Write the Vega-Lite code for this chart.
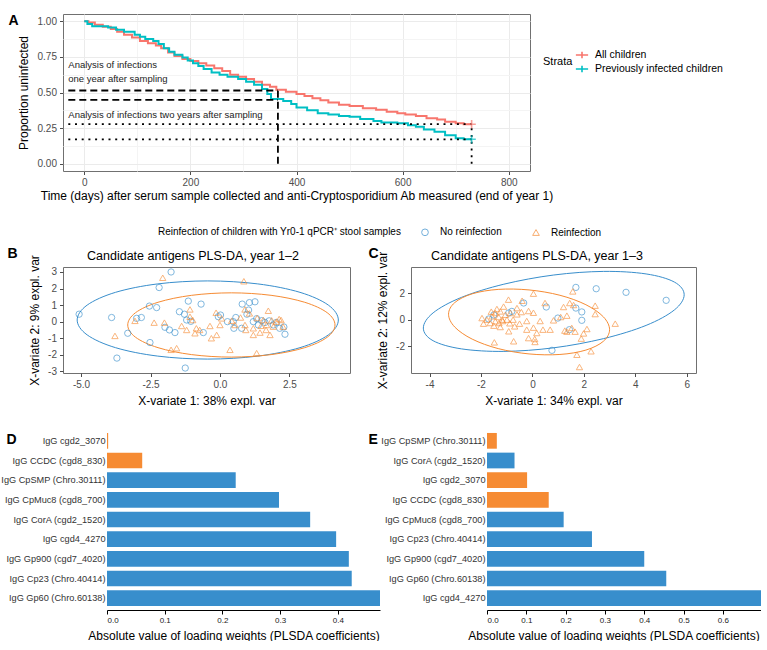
{
  "$schema": "https://vega.github.io/schema/vega-lite/v6.json",
  "padding": {"left": 0, "top": 12, "right": 0, "bottom": 0},
  "background": "white",
  "columns": 1,
  "align": "none",
  "bounds": "full",
  "spacing": 24,
  "config": {
    "font": "Liberation Sans",
    "view": {"stroke": "#707070", "strokeWidth": 1},
    "axis": {"labelColor": "#4D4D4D", "labelFontSize": 10, "titleFontSize": 12, "titleFontWeight": "normal", "titleColor": "#000000", "tickColor": "#4D4D4D", "tickSize": 3.5, "labelPadding": 3, "domain": false, "gridColor": "#EBEBEB"},
    "legend": {"labelFontSize": 10, "titleFontSize": 10, "titleFontWeight": "normal", "labelColor": "#000000", "titleColor": "#000000"}
  },
  "datasets": {
    "surv": [
      {"strata": "All children", "day": 0, "surv": 1.0},
      {"strata": "All children", "day": 8, "surv": 0.99},
      {"strata": "All children", "day": 20, "surv": 0.975},
      {"strata": "All children", "day": 35, "surv": 0.96},
      {"strata": "All children", "day": 50, "surv": 0.945},
      {"strata": "All children", "day": 62, "surv": 0.925},
      {"strata": "All children", "day": 75, "surv": 0.905},
      {"strata": "All children", "day": 90, "surv": 0.885},
      {"strata": "All children", "day": 105, "surv": 0.86},
      {"strata": "All children", "day": 120, "surv": 0.845},
      {"strata": "All children", "day": 135, "surv": 0.83},
      {"strata": "All children", "day": 145, "surv": 0.81},
      {"strata": "All children", "day": 158, "surv": 0.78},
      {"strata": "All children", "day": 170, "surv": 0.755},
      {"strata": "All children", "day": 185, "surv": 0.735},
      {"strata": "All children", "day": 200, "surv": 0.72},
      {"strata": "All children", "day": 215, "surv": 0.705},
      {"strata": "All children", "day": 230, "surv": 0.69},
      {"strata": "All children", "day": 245, "surv": 0.67},
      {"strata": "All children", "day": 260, "surv": 0.65},
      {"strata": "All children", "day": 275, "surv": 0.625},
      {"strata": "All children", "day": 290, "surv": 0.61},
      {"strata": "All children", "day": 305, "surv": 0.595},
      {"strata": "All children", "day": 320, "surv": 0.575},
      {"strata": "All children", "day": 335, "surv": 0.555},
      {"strata": "All children", "day": 350, "surv": 0.54},
      {"strata": "All children", "day": 362, "surv": 0.52},
      {"strata": "All children", "day": 380, "surv": 0.505},
      {"strata": "All children", "day": 400, "surv": 0.49},
      {"strata": "All children", "day": 415, "surv": 0.475},
      {"strata": "All children", "day": 430, "surv": 0.46},
      {"strata": "All children", "day": 445, "surv": 0.445},
      {"strata": "All children", "day": 460, "surv": 0.43},
      {"strata": "All children", "day": 480, "surv": 0.415},
      {"strata": "All children", "day": 500, "surv": 0.405},
      {"strata": "All children", "day": 525, "surv": 0.39},
      {"strata": "All children", "day": 550, "surv": 0.38},
      {"strata": "All children", "day": 570, "surv": 0.365},
      {"strata": "All children", "day": 590, "surv": 0.355},
      {"strata": "All children", "day": 605, "surv": 0.345},
      {"strata": "All children", "day": 625, "surv": 0.335},
      {"strata": "All children", "day": 645, "surv": 0.32},
      {"strata": "All children", "day": 665, "surv": 0.31},
      {"strata": "All children", "day": 680, "surv": 0.295},
      {"strata": "All children", "day": 700, "surv": 0.285},
      {"strata": "All children", "day": 715, "surv": 0.278},
      {"strata": "All children", "day": 730, "surv": 0.278},
      {"strata": "Previously infected children", "day": 0, "surv": 1.0},
      {"strata": "Previously infected children", "day": 6, "surv": 0.98},
      {"strata": "Previously infected children", "day": 15, "surv": 0.965},
      {"strata": "Previously infected children", "day": 45, "surv": 0.955},
      {"strata": "Previously infected children", "day": 60, "surv": 0.94},
      {"strata": "Previously infected children", "day": 75, "surv": 0.925},
      {"strata": "Previously infected children", "day": 95, "surv": 0.905},
      {"strata": "Previously infected children", "day": 105, "surv": 0.89},
      {"strata": "Previously infected children", "day": 115, "surv": 0.875},
      {"strata": "Previously infected children", "day": 130, "surv": 0.86},
      {"strata": "Previously infected children", "day": 140, "surv": 0.84},
      {"strata": "Previously infected children", "day": 150, "surv": 0.81},
      {"strata": "Previously infected children", "day": 160, "surv": 0.785},
      {"strata": "Previously infected children", "day": 170, "surv": 0.765},
      {"strata": "Previously infected children", "day": 185, "surv": 0.745},
      {"strata": "Previously infected children", "day": 195, "surv": 0.725},
      {"strata": "Previously infected children", "day": 205, "surv": 0.705},
      {"strata": "Previously infected children", "day": 215, "surv": 0.685},
      {"strata": "Previously infected children", "day": 225, "surv": 0.665},
      {"strata": "Previously infected children", "day": 240, "surv": 0.64},
      {"strata": "Previously infected children", "day": 255, "surv": 0.625},
      {"strata": "Previously infected children", "day": 270, "surv": 0.61},
      {"strata": "Previously infected children", "day": 290, "surv": 0.595},
      {"strata": "Previously infected children", "day": 305, "surv": 0.575},
      {"strata": "Previously infected children", "day": 320, "surv": 0.555},
      {"strata": "Previously infected children", "day": 335, "surv": 0.525},
      {"strata": "Previously infected children", "day": 345, "surv": 0.49},
      {"strata": "Previously infected children", "day": 352, "surv": 0.455},
      {"strata": "Previously infected children", "day": 375, "surv": 0.44},
      {"strata": "Previously infected children", "day": 390, "surv": 0.42},
      {"strata": "Previously infected children", "day": 400, "surv": 0.395},
      {"strata": "Previously infected children", "day": 420, "surv": 0.375},
      {"strata": "Previously infected children", "day": 440, "surv": 0.355},
      {"strata": "Previously infected children", "day": 460, "surv": 0.345},
      {"strata": "Previously infected children", "day": 480, "surv": 0.335},
      {"strata": "Previously infected children", "day": 500, "surv": 0.33},
      {"strata": "Previously infected children", "day": 520, "surv": 0.315},
      {"strata": "Previously infected children", "day": 545, "surv": 0.3},
      {"strata": "Previously infected children", "day": 560, "surv": 0.29},
      {"strata": "Previously infected children", "day": 590, "surv": 0.285},
      {"strata": "Previously infected children", "day": 610, "surv": 0.27},
      {"strata": "Previously infected children", "day": 625, "surv": 0.26},
      {"strata": "Previously infected children", "day": 640, "surv": 0.24},
      {"strata": "Previously infected children", "day": 660, "surv": 0.225},
      {"strata": "Previously infected children", "day": 680, "surv": 0.2},
      {"strata": "Previously infected children", "day": 700, "surv": 0.18},
      {"strata": "Previously infected children", "day": 715, "surv": 0.172},
      {"strata": "Previously infected children", "day": 730, "surv": 0.172}
    ],
    "censor": [
      {"strata": "All children", "day": 730, "surv": 0.278},
      {"strata": "Previously infected children", "day": 730, "surv": 0.172}
    ],
    "segs": [
      {"kind": "dashed", "x": -30, "x2": 365, "y": 0.514, "y2": 0.514},
      {"kind": "dashed", "x": -30, "x2": 365, "y": 0.449, "y2": 0.449},
      {"kind": "dashed", "x": 365, "x2": 365, "y": 0, "y2": 0.514},
      {"kind": "dotted", "x": -30, "x2": 730, "y": 0.278, "y2": 0.278},
      {"kind": "dotted", "x": -30, "x2": 730, "y": 0.172, "y2": 0.172},
      {"kind": "dotted", "x": 730, "x2": 730, "y": 0, "y2": 0.278}
    ],
    "notes": [
      {"x": -30, "y": 0.69, "label": "Analysis of infections"},
      {"x": -30, "y": 0.592, "label": "one year after sampling"},
      {"x": -30, "y": 0.34, "label": "Analysis of infections two years after sampling"}
    ],
    "ell": [
      {"panel": "B", "group": "No reinfection", "ord": 0, "x": 4.26, "y": 0.10},
      {"panel": "B", "group": "No reinfection", "ord": 1, "x": 3.90, "y": 1.00},
      {"panel": "B", "group": "No reinfection", "ord": 2, "x": 2.88, "y": 1.77},
      {"panel": "B", "group": "No reinfection", "ord": 3, "x": 1.36, "y": 2.28},
      {"panel": "B", "group": "No reinfection", "ord": 4, "x": -0.44, "y": 2.46},
      {"panel": "B", "group": "No reinfection", "ord": 5, "x": -2.24, "y": 2.28},
      {"panel": "B", "group": "No reinfection", "ord": 6, "x": -3.76, "y": 1.77},
      {"panel": "B", "group": "No reinfection", "ord": 7, "x": -4.78, "y": 1.00},
      {"panel": "B", "group": "No reinfection", "ord": 8, "x": -5.14, "y": 0.10},
      {"panel": "B", "group": "No reinfection", "ord": 9, "x": -4.78, "y": -0.80},
      {"panel": "B", "group": "No reinfection", "ord": 10, "x": -3.76, "y": -1.57},
      {"panel": "B", "group": "No reinfection", "ord": 11, "x": -2.24, "y": -2.08},
      {"panel": "B", "group": "No reinfection", "ord": 12, "x": -0.44, "y": -2.26},
      {"panel": "B", "group": "No reinfection", "ord": 13, "x": 1.36, "y": -2.08},
      {"panel": "B", "group": "No reinfection", "ord": 14, "x": 2.88, "y": -1.57},
      {"panel": "B", "group": "No reinfection", "ord": 15, "x": 3.90, "y": -0.80},
      {"panel": "B", "group": "Reinfection", "ord": 0, "x": 4.14, "y": -0.20},
      {"panel": "B", "group": "Reinfection", "ord": 1, "x": 3.86, "y": 0.54},
      {"panel": "B", "group": "Reinfection", "ord": 2, "x": 3.05, "y": 1.17},
      {"panel": "B", "group": "Reinfection", "ord": 3, "x": 1.84, "y": 1.59},
      {"panel": "B", "group": "Reinfection", "ord": 4, "x": 0.41, "y": 1.74},
      {"panel": "B", "group": "Reinfection", "ord": 5, "x": -1.02, "y": 1.59},
      {"panel": "B", "group": "Reinfection", "ord": 6, "x": -2.23, "y": 1.17},
      {"panel": "B", "group": "Reinfection", "ord": 7, "x": -3.04, "y": 0.54},
      {"panel": "B", "group": "Reinfection", "ord": 8, "x": -3.32, "y": -0.20},
      {"panel": "B", "group": "Reinfection", "ord": 9, "x": -3.04, "y": -0.94},
      {"panel": "B", "group": "Reinfection", "ord": 10, "x": -2.23, "y": -1.57},
      {"panel": "B", "group": "Reinfection", "ord": 11, "x": -1.02, "y": -1.99},
      {"panel": "B", "group": "Reinfection", "ord": 12, "x": 0.41, "y": -2.14},
      {"panel": "B", "group": "Reinfection", "ord": 13, "x": 1.84, "y": -1.99},
      {"panel": "B", "group": "Reinfection", "ord": 14, "x": 3.05, "y": -1.57},
      {"panel": "B", "group": "Reinfection", "ord": 15, "x": 3.86, "y": -0.94},
      {"panel": "C", "group": "No reinfection", "ord": 0, "x": 5.90, "y": 1.87},
      {"panel": "C", "group": "No reinfection", "ord": 1, "x": 5.52, "y": 2.82},
      {"panel": "C", "group": "No reinfection", "ord": 2, "x": 4.42, "y": 3.43},
      {"panel": "C", "group": "No reinfection", "ord": 3, "x": 2.77, "y": 3.62},
      {"panel": "C", "group": "No reinfection", "ord": 4, "x": 0.83, "y": 3.35},
      {"panel": "C", "group": "No reinfection", "ord": 5, "x": -1.11, "y": 2.66},
      {"panel": "C", "group": "No reinfection", "ord": 6, "x": -2.76, "y": 1.67},
      {"panel": "C", "group": "No reinfection", "ord": 7, "x": -3.86, "y": 0.51},
      {"panel": "C", "group": "No reinfection", "ord": 8, "x": -4.24, "y": -0.63},
      {"panel": "C", "group": "No reinfection", "ord": 9, "x": -3.86, "y": -1.58},
      {"panel": "C", "group": "No reinfection", "ord": 10, "x": -2.76, "y": -2.19},
      {"panel": "C", "group": "No reinfection", "ord": 11, "x": -1.11, "y": -2.38},
      {"panel": "C", "group": "No reinfection", "ord": 12, "x": 0.83, "y": -2.11},
      {"panel": "C", "group": "No reinfection", "ord": 13, "x": 2.77, "y": -1.42},
      {"panel": "C", "group": "No reinfection", "ord": 14, "x": 4.42, "y": -0.43},
      {"panel": "C", "group": "No reinfection", "ord": 15, "x": 5.52, "y": 0.73},
      {"panel": "C", "group": "Reinfection", "ord": 0, "x": 3.00, "y": -0.75},
      {"panel": "C", "group": "Reinfection", "ord": 1, "x": 2.76, "y": 0.21},
      {"panel": "C", "group": "Reinfection", "ord": 2, "x": 2.08, "y": 1.12},
      {"panel": "C", "group": "Reinfection", "ord": 3, "x": 1.07, "y": 1.83},
      {"panel": "C", "group": "Reinfection", "ord": 4, "x": -0.13, "y": 2.23},
      {"panel": "C", "group": "Reinfection", "ord": 5, "x": -1.33, "y": 2.27},
      {"panel": "C", "group": "Reinfection", "ord": 6, "x": -2.34, "y": 1.94},
      {"panel": "C", "group": "Reinfection", "ord": 7, "x": -3.02, "y": 1.28},
      {"panel": "C", "group": "Reinfection", "ord": 8, "x": -3.26, "y": 0.41},
      {"panel": "C", "group": "Reinfection", "ord": 9, "x": -3.02, "y": -0.55},
      {"panel": "C", "group": "Reinfection", "ord": 10, "x": -2.34, "y": -1.46},
      {"panel": "C", "group": "Reinfection", "ord": 11, "x": -1.33, "y": -2.17},
      {"panel": "C", "group": "Reinfection", "ord": 12, "x": -0.13, "y": -2.57},
      {"panel": "C", "group": "Reinfection", "ord": 13, "x": 1.07, "y": -2.61},
      {"panel": "C", "group": "Reinfection", "ord": 14, "x": 2.08, "y": -2.28},
      {"panel": "C", "group": "Reinfection", "ord": 15, "x": 2.76, "y": -1.62}
    ],
    "pls": [
      {"panel": "B", "group": "No reinfection", "x": -5.07, "y": 0.45},
      {"panel": "B", "group": "No reinfection", "x": -3.9, "y": 0.25},
      {"panel": "B", "group": "No reinfection", "x": -3.71, "y": -2.2},
      {"panel": "B", "group": "No reinfection", "x": -3.32, "y": -0.7},
      {"panel": "B", "group": "No reinfection", "x": -3.0, "y": 0.2},
      {"panel": "B", "group": "No reinfection", "x": -2.83, "y": 0.25},
      {"panel": "B", "group": "No reinfection", "x": -2.54, "y": 0.94},
      {"panel": "B", "group": "No reinfection", "x": -2.28, "y": 0.85},
      {"panel": "B", "group": "No reinfection", "x": -2.19, "y": 2.06},
      {"panel": "B", "group": "No reinfection", "x": -2.52, "y": -1.26},
      {"panel": "B", "group": "No reinfection", "x": -1.76, "y": 3.0},
      {"panel": "B", "group": "No reinfection", "x": -1.98, "y": -0.34},
      {"panel": "B", "group": "No reinfection", "x": -1.82, "y": -0.5},
      {"panel": "B", "group": "No reinfection", "x": -1.62, "y": -0.66},
      {"panel": "B", "group": "No reinfection", "x": -1.46, "y": 0.6},
      {"panel": "B", "group": "No reinfection", "x": -1.28, "y": 0.45},
      {"panel": "B", "group": "No reinfection", "x": -1.14, "y": 1.24},
      {"panel": "B", "group": "No reinfection", "x": -1.2, "y": 0.1},
      {"panel": "B", "group": "No reinfection", "x": -1.05, "y": 0.02},
      {"panel": "B", "group": "No reinfection", "x": -1.25, "y": -2.8},
      {"panel": "B", "group": "No reinfection", "x": -0.68, "y": 1.06},
      {"panel": "B", "group": "No reinfection", "x": -0.6, "y": -0.66},
      {"panel": "B", "group": "No reinfection", "x": -0.06, "y": 0.3},
      {"panel": "B", "group": "No reinfection", "x": 0.02, "y": 0.4},
      {"panel": "B", "group": "No reinfection", "x": 0.48, "y": 0.0},
      {"panel": "B", "group": "No reinfection", "x": 0.57, "y": 0.25},
      {"panel": "B", "group": "No reinfection", "x": 0.5, "y": -0.4},
      {"panel": "B", "group": "No reinfection", "x": 0.8, "y": 1.06},
      {"panel": "B", "group": "No reinfection", "x": 1.03, "y": 0.7},
      {"panel": "B", "group": "No reinfection", "x": 1.06, "y": 1.15},
      {"panel": "B", "group": "No reinfection", "x": 1.26, "y": 1.2},
      {"panel": "B", "group": "No reinfection", "x": 0.78, "y": -0.4},
      {"panel": "B", "group": "No reinfection", "x": 1.2, "y": 0.0},
      {"panel": "B", "group": "No reinfection", "x": 1.32, "y": 0.18},
      {"panel": "B", "group": "No reinfection", "x": 1.38, "y": -0.2},
      {"panel": "B", "group": "No reinfection", "x": 1.5, "y": 0.06},
      {"panel": "B", "group": "No reinfection", "x": 1.62, "y": -0.05},
      {"panel": "B", "group": "No reinfection", "x": 1.77, "y": 0.05},
      {"panel": "B", "group": "No reinfection", "x": 1.92, "y": -0.2},
      {"panel": "B", "group": "No reinfection", "x": 2.03, "y": -0.05},
      {"panel": "B", "group": "No reinfection", "x": 2.15, "y": -0.4},
      {"panel": "B", "group": "No reinfection", "x": 2.34, "y": -0.76},
      {"panel": "B", "group": "No reinfection", "x": 2.3, "y": -0.32},
      {"panel": "B", "group": "No reinfection", "x": 0.97, "y": 0.45},
      {"panel": "B", "group": "No reinfection", "x": 0.27, "y": 0.0},
      {"panel": "B", "group": "Reinfection", "x": -2.06, "y": 2.65},
      {"panel": "B", "group": "Reinfection", "x": 0.86, "y": 2.44},
      {"panel": "B", "group": "Reinfection", "x": -3.78, "y": -0.86},
      {"panel": "B", "group": "Reinfection", "x": -3.06, "y": 0.05},
      {"panel": "B", "group": "Reinfection", "x": -2.37, "y": -0.06},
      {"panel": "B", "group": "Reinfection", "x": -2.0, "y": -0.06},
      {"panel": "B", "group": "Reinfection", "x": -1.76, "y": -1.7},
      {"panel": "B", "group": "Reinfection", "x": -1.56, "y": -1.6},
      {"panel": "B", "group": "Reinfection", "x": -1.38, "y": -0.26},
      {"panel": "B", "group": "Reinfection", "x": -1.08, "y": 0.74},
      {"panel": "B", "group": "Reinfection", "x": -1.08, "y": 0.3},
      {"panel": "B", "group": "Reinfection", "x": -0.98, "y": 0.1},
      {"panel": "B", "group": "Reinfection", "x": -1.2, "y": -0.5},
      {"panel": "B", "group": "Reinfection", "x": -0.9, "y": -0.7},
      {"panel": "B", "group": "Reinfection", "x": -0.85, "y": -0.4},
      {"panel": "B", "group": "Reinfection", "x": -0.73, "y": -0.5},
      {"panel": "B", "group": "Reinfection", "x": -0.36, "y": -0.26},
      {"panel": "B", "group": "Reinfection", "x": -0.31, "y": -1.0},
      {"panel": "B", "group": "Reinfection", "x": -0.12, "y": -0.8},
      {"panel": "B", "group": "Reinfection", "x": -0.14, "y": 0.54},
      {"panel": "B", "group": "Reinfection", "x": 0.0, "y": -0.2},
      {"panel": "B", "group": "Reinfection", "x": 0.06, "y": 0.2},
      {"panel": "B", "group": "Reinfection", "x": 0.36, "y": -1.7},
      {"panel": "B", "group": "Reinfection", "x": 0.42, "y": 0.06},
      {"panel": "B", "group": "Reinfection", "x": 0.74, "y": 0.25},
      {"panel": "B", "group": "Reinfection", "x": 0.9, "y": 0.74},
      {"panel": "B", "group": "Reinfection", "x": 0.9, "y": -0.2},
      {"panel": "B", "group": "Reinfection", "x": 0.93, "y": -0.5},
      {"panel": "B", "group": "Reinfection", "x": 1.06, "y": 0.5},
      {"panel": "B", "group": "Reinfection", "x": 1.2, "y": -0.4},
      {"panel": "B", "group": "Reinfection", "x": 1.32, "y": -1.9},
      {"panel": "B", "group": "Reinfection", "x": 1.34, "y": 0.22},
      {"panel": "B", "group": "Reinfection", "x": 1.44, "y": -0.66},
      {"panel": "B", "group": "Reinfection", "x": 1.56, "y": 0.1},
      {"panel": "B", "group": "Reinfection", "x": 1.74, "y": 0.66},
      {"panel": "B", "group": "Reinfection", "x": 1.68, "y": -0.2},
      {"panel": "B", "group": "Reinfection", "x": 1.8, "y": -0.8},
      {"panel": "B", "group": "Reinfection", "x": 1.92, "y": -0.3},
      {"panel": "B", "group": "Reinfection", "x": 2.03, "y": 0.0},
      {"panel": "B", "group": "Reinfection", "x": 2.13, "y": 0.16},
      {"panel": "B", "group": "Reinfection", "x": 2.2, "y": 0.1},
      {"panel": "B", "group": "Reinfection", "x": 2.27, "y": -0.3},
      {"panel": "B", "group": "Reinfection", "x": 1.86, "y": 0.08},
      {"panel": "B", "group": "Reinfection", "x": 1.66, "y": -0.5},
      {"panel": "B", "group": "Reinfection", "x": 0.54, "y": -0.2},
      {"panel": "B", "group": "Reinfection", "x": 1.2, "y": -0.8},
      {"panel": "B", "group": "Reinfection", "x": 1.48, "y": -0.25},
      {"panel": "C", "group": "No reinfection", "x": 1.69, "y": 2.42},
      {"panel": "C", "group": "No reinfection", "x": 2.48, "y": 2.32},
      {"panel": "C", "group": "No reinfection", "x": 3.64, "y": 2.05},
      {"panel": "C", "group": "No reinfection", "x": 5.2, "y": 1.45},
      {"panel": "C", "group": "No reinfection", "x": 0.54, "y": 0.95},
      {"panel": "C", "group": "No reinfection", "x": 1.69, "y": 0.87},
      {"panel": "C", "group": "No reinfection", "x": 1.92, "y": 0.58},
      {"panel": "C", "group": "No reinfection", "x": 1.92, "y": -0.05},
      {"panel": "C", "group": "No reinfection", "x": 0.99, "y": 0.12},
      {"panel": "C", "group": "No reinfection", "x": 1.44, "y": -0.75},
      {"panel": "C", "group": "No reinfection", "x": 0.76, "y": -2.3},
      {"panel": "C", "group": "No reinfection", "x": -0.34, "y": 1.25},
      {"panel": "C", "group": "No reinfection", "x": -0.8, "y": 0.62},
      {"panel": "C", "group": "No reinfection", "x": -0.92, "y": 0.5},
      {"panel": "C", "group": "No reinfection", "x": -1.7, "y": 0.05},
      {"panel": "C", "group": "No reinfection", "x": -1.5, "y": 0.35},
      {"panel": "C", "group": "Reinfection", "x": 0.04, "y": 1.95},
      {"panel": "C", "group": "Reinfection", "x": 1.57, "y": 2.12},
      {"panel": "C", "group": "Reinfection", "x": -0.93, "y": 1.5},
      {"panel": "C", "group": "Reinfection", "x": -0.4, "y": 1.42},
      {"panel": "C", "group": "Reinfection", "x": 0.49, "y": 1.25},
      {"panel": "C", "group": "Reinfection", "x": 1.45, "y": 1.25},
      {"panel": "C", "group": "Reinfection", "x": 2.44, "y": 1.05},
      {"panel": "C", "group": "Reinfection", "x": 2.44, "y": 0.42},
      {"panel": "C", "group": "Reinfection", "x": 1.21, "y": 0.95},
      {"panel": "C", "group": "Reinfection", "x": 1.34, "y": 0.3},
      {"panel": "C", "group": "Reinfection", "x": 1.1, "y": 0.2},
      {"panel": "C", "group": "Reinfection", "x": 0.82, "y": -0.05},
      {"panel": "C", "group": "Reinfection", "x": 3.22, "y": -0.3},
      {"panel": "C", "group": "Reinfection", "x": 2.12, "y": -0.7},
      {"panel": "C", "group": "Reinfection", "x": 1.9, "y": -1.42},
      {"panel": "C", "group": "Reinfection", "x": 1.73, "y": -2.63},
      {"panel": "C", "group": "Reinfection", "x": 2.28, "y": -2.37},
      {"panel": "C", "group": "Reinfection", "x": 1.83, "y": -3.55},
      {"panel": "C", "group": "Reinfection", "x": 1.53, "y": -0.62},
      {"panel": "C", "group": "Reinfection", "x": 1.26, "y": -0.82},
      {"panel": "C", "group": "Reinfection", "x": 0.69, "y": -0.75},
      {"panel": "C", "group": "Reinfection", "x": 0.41, "y": -0.75},
      {"panel": "C", "group": "Reinfection", "x": 0.17, "y": -1.0},
      {"panel": "C", "group": "Reinfection", "x": 0.09, "y": -1.45},
      {"panel": "C", "group": "Reinfection", "x": -0.15, "y": -1.38},
      {"panel": "C", "group": "Reinfection", "x": 0.1, "y": -1.67},
      {"panel": "C", "group": "Reinfection", "x": -0.22, "y": -0.75},
      {"panel": "C", "group": "Reinfection", "x": 0.04, "y": -0.6},
      {"panel": "C", "group": "Reinfection", "x": 0.3, "y": -0.1},
      {"panel": "C", "group": "Reinfection", "x": -0.22, "y": -0.1},
      {"panel": "C", "group": "Reinfection", "x": 0.04, "y": 0.52},
      {"panel": "C", "group": "Reinfection", "x": -0.15, "y": 0.65},
      {"panel": "C", "group": "Reinfection", "x": -0.43, "y": 0.57},
      {"panel": "C", "group": "Reinfection", "x": -0.6, "y": 0.4},
      {"panel": "C", "group": "Reinfection", "x": -0.75, "y": 0.0},
      {"panel": "C", "group": "Reinfection", "x": -0.88, "y": -0.27},
      {"panel": "C", "group": "Reinfection", "x": -0.69, "y": -0.5},
      {"panel": "C", "group": "Reinfection", "x": -0.92, "y": -0.87},
      {"panel": "C", "group": "Reinfection", "x": -0.73, "y": -1.62},
      {"panel": "C", "group": "Reinfection", "x": -1.48, "y": -1.7},
      {"panel": "C", "group": "Reinfection", "x": -1.96, "y": 0.12},
      {"panel": "C", "group": "Reinfection", "x": -1.77, "y": 0.0},
      {"panel": "C", "group": "Reinfection", "x": -1.57, "y": 0.25},
      {"panel": "C", "group": "Reinfection", "x": -1.44, "y": 0.5},
      {"panel": "C", "group": "Reinfection", "x": -1.38, "y": 0.8},
      {"panel": "C", "group": "Reinfection", "x": -1.25, "y": 0.62},
      {"panel": "C", "group": "Reinfection", "x": -1.12, "y": 0.98},
      {"panel": "C", "group": "Reinfection", "x": -1.05, "y": 0.37},
      {"panel": "C", "group": "Reinfection", "x": -1.18, "y": 0.0},
      {"panel": "C", "group": "Reinfection", "x": -1.3, "y": -0.25},
      {"panel": "C", "group": "Reinfection", "x": -1.5, "y": -0.45},
      {"panel": "C", "group": "Reinfection", "x": -1.25, "y": -0.55},
      {"panel": "C", "group": "Reinfection", "x": -1.44, "y": -0.12},
      {"panel": "C", "group": "Reinfection", "x": -1.64, "y": -0.25},
      {"panel": "C", "group": "Reinfection", "x": -0.99, "y": 0.0},
      {"panel": "C", "group": "Reinfection", "x": -0.86, "y": 0.5},
      {"panel": "C", "group": "Reinfection", "x": -0.6, "y": 0.87},
      {"panel": "C", "group": "Reinfection", "x": -1.9, "y": -0.3},
      {"panel": "C", "group": "Reinfection", "x": -1.31, "y": 0.2},
      {"panel": "C", "group": "Reinfection", "x": 1.99, "y": -1.03},
      {"panel": "C", "group": "Reinfection", "x": 1.66, "y": -0.9},
      {"panel": "C", "group": "Reinfection", "x": 1.34, "y": -0.9},
      {"panel": "C", "group": "Reinfection", "x": 1.6, "y": 1.1},
      {"panel": "C", "group": "Reinfection", "x": -1.6, "y": 0.6},
      {"panel": "C", "group": "Reinfection", "x": -1.15, "y": -0.1},
      {"panel": "C", "group": "Reinfection", "x": -0.5, "y": -0.3}
    ],
    "load": [
      {"panel": "D", "antigen": "IgG cgd2_3070", "value": 0.002, "contrib": "Reinfection"},
      {"panel": "D", "antigen": "IgG CCDC (cgd8_830)", "value": 0.061, "contrib": "Reinfection"},
      {"panel": "D", "antigen": "IgG CpSMP (Chro.30111)", "value": 0.223, "contrib": "No reinfection"},
      {"panel": "D", "antigen": "IgG CpMuc8 (cgd8_700)", "value": 0.298, "contrib": "No reinfection"},
      {"panel": "D", "antigen": "IgG CorA (cgd2_1520)", "value": 0.352, "contrib": "No reinfection"},
      {"panel": "D", "antigen": "IgG cgd4_4270", "value": 0.397, "contrib": "No reinfection"},
      {"panel": "D", "antigen": "IgG Gp900 (cgd7_4020)", "value": 0.419, "contrib": "No reinfection"},
      {"panel": "D", "antigen": "IgG Cp23 (Chro.40414)", "value": 0.424, "contrib": "No reinfection"},
      {"panel": "D", "antigen": "IgG Gp60 (Chro.60138)", "value": 0.473, "contrib": "No reinfection"},
      {"panel": "E", "antigen": "IgG CpSMP (Chro.30111)", "value": 0.025, "contrib": "Reinfection"},
      {"panel": "E", "antigen": "IgG CorA (cgd2_1520)", "value": 0.07, "contrib": "No reinfection"},
      {"panel": "E", "antigen": "IgG cgd2_3070", "value": 0.102, "contrib": "Reinfection"},
      {"panel": "E", "antigen": "IgG CCDC (cgd8_830)", "value": 0.157, "contrib": "Reinfection"},
      {"panel": "E", "antigen": "IgG CpMuc8 (cgd8_700)", "value": 0.195, "contrib": "No reinfection"},
      {"panel": "E", "antigen": "IgG Cp23 (Chro.40414)", "value": 0.267, "contrib": "No reinfection"},
      {"panel": "E", "antigen": "IgG Gp900 (cgd7_4020)", "value": 0.40, "contrib": "No reinfection"},
      {"panel": "E", "antigen": "IgG Gp60 (Chro.60138)", "value": 0.456, "contrib": "No reinfection"},
      {"panel": "E", "antigen": "IgG cgd4_4270", "value": 0.697, "contrib": "No reinfection"}
    ]
  },
  "resolve": {
    "scale": {"color": "independent", "shape": "independent", "stroke": "independent", "strokeDash": "independent"},
    "legend": {"color": "independent", "shape": "independent"}
  },
  "concat": [
    {
      "width": 467,
      "height": 157,
      "view": {"stroke": "#707070"},
      "resolve": {"axis": {"y": "independent"}},
      "layer": [
        {
          "data": {"name": "surv"},
          "mark": {"type": "line", "interpolate": "step-after", "strokeWidth": 2},
          "encoding": {
            "x": {"field": "day", "type": "quantitative", "title": "Time (days) after serum sample collected and anti-Cryptosporidium Ab measured (end of year 1)",
              "scale": {"domain": [-40, 840], "nice": false, "zero": false},
              "axis": {"values": [0, 100, 200, 300, 400, 500, 600, 700, 800],
                "labelExpr": "datum.value % 200 === 0 ? '' + datum.value : ''",
                "gridColor": {"condition": {"test": "datum.value % 200 === 0", "value": "#EBEBEB"}, "value": "#F4F4F4"},
                "tickOpacity": {"condition": {"test": "datum.value % 200 === 0", "value": 1}, "value": 0},
                "titlePadding": 3}},
            "y": {"field": "surv", "type": "quantitative", "title": "Proportion uninfected",
              "scale": {"domain": [-0.05, 1.05], "nice": false, "zero": false},
              "axis": {"values": [0, 0.125, 0.25, 0.375, 0.5, 0.625, 0.75, 0.875, 1],
                "labelExpr": "datum.value % 0.25 === 0 ? format(datum.value, '.2f') : ''",
                "gridColor": {"condition": {"test": "datum.value % 0.25 === 0", "value": "#EBEBEB"}, "value": "#F4F4F4"},
                "tickOpacity": {"condition": {"test": "datum.value % 0.25 === 0", "value": 1}, "value": 0},
                "titlePadding": 7}},
            "color": {"field": "strata", "type": "nominal", "title": "Strata",
              "scale": {"domain": ["All children", "Previously infected children"], "range": ["#F8766D", "#00BFC4"]},
              "legend": {"orient": "none", "legendX": 480, "legendY": 34, "titleOrient": "left", "symbolType": "M-1,0L1,0M0,-0.55L0,0.55", "symbolSize": 150, "symbolStrokeWidth": 1.6, "labelFontSize": 10.5, "titleFontSize": 11, "titlePadding": 2, "rowPadding": 0, "labelOffset": 6, "labelLimit": 300}}
          }
        },
        {
          "data": {"name": "segs"},
          "mark": {"type": "rule", "strokeWidth": 1.8, "color": "#000000"},
          "encoding": {
            "x": {"field": "x", "type": "quantitative", "title": "Time (days) after serum sample collected and anti-Cryptosporidium Ab measured (end of year 1)"},
            "x2": {"field": "x2"},
            "y": {"field": "y", "type": "quantitative", "axis": null},
            "y2": {"field": "y2"},
            "strokeDash": {"field": "kind", "type": "nominal", "scale": {"domain": ["dashed", "dotted"], "range": [[7, 4], [2, 4.7]]}, "legend": null}
          }
        },
        {
          "data": {"name": "censor"},
          "mark": {"type": "point", "shape": "M-1,0L1,0M0,-1L0,1", "size": 70, "filled": false, "strokeWidth": 1.6},
          "encoding": {
            "x": {"field": "day", "type": "quantitative", "title": "Time (days) after serum sample collected and anti-Cryptosporidium Ab measured (end of year 1)"},
            "y": {"field": "surv", "type": "quantitative", "axis": null},
            "stroke": {"field": "strata", "type": "nominal", "scale": {"domain": ["All children", "Previously infected children"], "range": ["#F8766D", "#00BFC4"]}, "legend": null}
          }
        },
        {
          "data": {"name": "notes"},
          "mark": {"type": "text", "align": "left", "baseline": "middle", "fontSize": 9.5, "color": "#222222"},
          "encoding": {
            "x": {"field": "x", "type": "quantitative", "title": "Time (days) after serum sample collected and anti-Cryptosporidium Ab measured (end of year 1)"},
            "y": {"field": "y", "type": "quantitative", "title": "A",
              "axis": {"orient": "right", "labels": false, "ticks": false, "domain": false, "grid": false, "titleAngle": 0, "titleX": -522, "titleY": 6, "titleAlign": "left", "titleBaseline": "middle", "titleFontWeight": "bold", "titleFontSize": 14}},
            "text": {"field": "label"}
          }
        }
      ]
    },
    {
      "bounds": "flush",
      "spacing": 61,
      "resolve": {"legend": {"color": "independent", "shape": "independent"}},
      "hconcat": [
        {
          "width": 287,
          "height": 106,
          "view": {"stroke": "#707070"},
          "resolve": {"axis": {"x": "independent", "y": "independent"}},
          "layer": [
            {
              "data": {"name": "ell"},
              "transform": [{"filter": "datum.panel === 'B'"}],
              "mark": {"type": "line", "interpolate": "cardinal-closed", "strokeWidth": 1},
              "encoding": {
                "x": {"field": "x", "type": "quantitative", "title": "Candidate antigens PLS-DA, year 1–2",
                  "scale": {"domain": [-5.65, 4.68], "nice": false, "zero": false},
                  "axis": {"orient": "top", "labels": false, "ticks": false, "domain": false, "grid": false, "titleX": 129.5, "titleY": -12, "titleAlign": "center", "titleBaseline": "middle", "titleFontSize": 12.5}},
                "y": {"field": "y", "type": "quantitative", "title": "B",
                  "scale": {"domain": [-3.1, 3.3], "nice": false, "zero": false},
                  "axis": {"orient": "right", "labels": false, "ticks": false, "domain": false, "grid": false, "titleAngle": 0, "titleX": -343, "titleY": -14, "titleAlign": "left", "titleBaseline": "middle", "titleFontWeight": "bold", "titleFontSize": 14}},
                "stroke": {"field": "group", "type": "nominal", "scale": {"domain": ["No reinfection", "Reinfection"], "range": ["#388ECC", "#F68B33"]}, "legend": null},
                "detail": {"field": "group"},
                "order": {"field": "ord", "type": "quantitative"}
              }
            },
            {
              "data": {"name": "pls"},
              "transform": [{"filter": "datum.panel === 'B'"}],
              "mark": {"type": "point", "filled": false, "strokeWidth": 0.9, "size": 40},
              "encoding": {
                "x": {"field": "x", "type": "quantitative", "title": "X-variate 1: 38% expl. var",
                  "scale": {"domain": [-5.65, 4.68], "nice": false, "zero": false},
                  "axis": {"values": [-5, -3.75, -2.5, -1.25, 0, 1.25, 2.5, 3.75],
                    "labelExpr": "datum.value % 2.5 === 0 ? (datum.value < 0 ? '-' : '') + format(abs(datum.value), '.1f') : ''",
                    "gridColor": {"condition": {"test": "datum.value % 2.5 === 0", "value": "#EBEBEB"}, "value": "#F4F4F4"},
                    "tickOpacity": {"condition": {"test": "datum.value % 2.5 === 0", "value": 1}, "value": 0},
                    "titlePadding": 6}},
                "y": {"field": "y", "type": "quantitative", "title": "X-variate 2: 9% expl. var",
                  "scale": {"domain": [-3.1, 3.3], "nice": false, "zero": false},
                  "axis": {"values": [-3, -2.5, -2, -1.5, -1, -0.5, 0, 0.5, 1, 1.5, 2, 2.5, 3],
                    "labelExpr": "datum.value % 1 === 0 ? '' + datum.value : ''",
                    "gridColor": {"condition": {"test": "datum.value % 1 === 0", "value": "#EBEBEB"}, "value": "#F4F4F4"},
                    "tickOpacity": {"condition": {"test": "datum.value % 1 === 0", "value": 1}, "value": 0},
                    "titlePadding": 6}},
                "color": {"field": "group", "type": "nominal", "title": "Reinfection of children with Yr0-1 qPCR⁺ stool samples",
                  "scale": {"domain": ["No reinfection", "Reinfection"], "range": ["#388ECC", "#F68B33"]},
                  "legend": {"orient": "none", "legendX": 95, "legendY": -40, "direction": "horizontal", "titleOrient": "left", "titleLimit": 400, "symbolSize": 45, "symbolStrokeWidth": 1, "columnPadding": 28, "titlePadding": 18, "labelOffset": 10}},
                "shape": {"field": "group", "type": "nominal", "title": "Reinfection of children with Yr0-1 qPCR⁺ stool samples",
                  "scale": {"domain": ["No reinfection", "Reinfection"], "range": ["circle", "triangle-up"]},
                  "legend": {"orient": "none", "legendX": 95, "legendY": -40, "direction": "horizontal", "titleOrient": "left", "titleLimit": 400, "symbolSize": 45, "symbolStrokeWidth": 1, "columnPadding": 28, "titlePadding": 18, "labelOffset": 10}}
              }
            }
          ]
        },
        {
          "width": 285,
          "height": 106,
          "view": {"stroke": "#707070"},
          "resolve": {"axis": {"x": "independent", "y": "independent"}},
          "layer": [
            {
              "data": {"name": "ell"},
              "transform": [{"filter": "datum.panel === 'C'"}],
              "mark": {"type": "line", "interpolate": "cardinal-closed", "strokeWidth": 1},
              "encoding": {
                "x": {"field": "x", "type": "quantitative", "title": "Candidate antigens PLS-DA, year 1–3",
                  "scale": {"domain": [-4.72, 6.36], "nice": false, "zero": false},
                  "axis": {"orient": "top", "labels": false, "ticks": false, "domain": false, "grid": false, "titleX": 125.5, "titleY": -12, "titleAlign": "center", "titleBaseline": "middle", "titleFontSize": 12.5}},
                "y": {"field": "y", "type": "quantitative", "title": "C",
                  "scale": {"domain": [-4.0, 3.95], "nice": false, "zero": false},
                  "axis": {"orient": "right", "labels": false, "ticks": false, "domain": false, "grid": false, "titleAngle": 0, "titleX": -328, "titleY": -14, "titleAlign": "left", "titleBaseline": "middle", "titleFontWeight": "bold", "titleFontSize": 14}},
                "stroke": {"field": "group", "type": "nominal", "scale": {"domain": ["No reinfection", "Reinfection"], "range": ["#388ECC", "#F68B33"]}, "legend": null},
                "detail": {"field": "group"},
                "order": {"field": "ord", "type": "quantitative"}
              }
            },
            {
              "data": {"name": "pls"},
              "transform": [{"filter": "datum.panel === 'C'"}],
              "mark": {"type": "point", "filled": false, "strokeWidth": 0.9, "size": 40},
              "encoding": {
                "x": {"field": "x", "type": "quantitative", "title": "X-variate 1: 34% expl. var",
                  "scale": {"domain": [-4.72, 6.36], "nice": false, "zero": false},
                  "axis": {"values": [-4, -3, -2, -1, 0, 1, 2, 3, 4, 5, 6],
                    "labelExpr": "datum.value % 2 === 0 ? '' + datum.value : ''",
                    "gridColor": {"condition": {"test": "datum.value % 2 === 0", "value": "#EBEBEB"}, "value": "#F4F4F4"},
                    "tickOpacity": {"condition": {"test": "datum.value % 2 === 0", "value": 1}, "value": 0},
                    "titlePadding": 6}},
                "y": {"field": "y", "type": "quantitative", "title": "X-variate 2: 12% expl. var",
                  "scale": {"domain": [-4.0, 3.95], "nice": false, "zero": false},
                  "axis": {"values": [-3, -2, -1, 0, 1, 2, 3],
                    "labelExpr": "datum.value % 2 === 0 ? '' + datum.value : ''",
                    "gridColor": {"condition": {"test": "datum.value % 2 === 0", "value": "#EBEBEB"}, "value": "#F4F4F4"},
                    "tickOpacity": {"condition": {"test": "datum.value % 2 === 0", "value": 1}, "value": 0},
                    "titlePadding": 6}},
                "color": {"field": "group", "type": "nominal", "title": "Reinfection of children with Yr0-1 qPCR⁺ stool samples",
                  "scale": {"domain": ["No reinfection", "Reinfection"], "range": ["#388ECC", "#F68B33"]},
                  "legend": null},
                "shape": {"field": "group", "type": "nominal", "title": "Reinfection of children with Yr0-1 qPCR⁺ stool samples",
                  "scale": {"domain": ["No reinfection", "Reinfection"], "range": ["circle", "triangle-up"]},
                  "legend": null}
              }
            }
          ]
        }
      ]
    },
    {
      "bounds": "flush",
      "spacing": 43,
      "hconcat": [
        {
          "width": 1,
          "height": 1,
          "view": {"stroke": null},
          "data": {"values": []},
          "mark": {"type": "point", "opacity": 0},
          "encoding": {}
        },
        {
          "bounds": "flush",
          "spacing": 107,
          "hconcat": [
            {
              "width": 273,
              "height": 177,
              "view": {"stroke": null},
              "data": {"name": "load"},
              "transform": [{"filter": "datum.panel === 'D'"}],
              "mark": {"type": "bar"},
              "encoding": {
                "y": {"field": "antigen", "type": "nominal", "sort": null, "title": "D",
                  "scale": {"paddingInner": 0.2, "paddingOuter": 0.1},
                  "axis": {"ticks": false, "domain": false, "grid": false, "labelFontSize": 9.2, "labelColor": "#333333", "labelPadding": 2, "labelLimit": 220,
                    "titleAngle": 0, "titleX": -101, "titleY": 8, "titleAlign": "left", "titleBaseline": "middle", "titleFontWeight": "bold", "titleFontSize": 14}},
                "x": {"field": "value", "type": "quantitative", "title": "Absolute value of loading weights (PLSDA coefficients)",
                  "scale": {"domain": [0, 0.473], "nice": false, "zero": true},
                  "axis": {"values": [0, 0.1, 0.2, 0.3, 0.4], "format": ".1f", "domain": true, "domainColor": "#000000", "tickColor": "#000000", "tickSize": 4, "labelFontSize": 8, "labelColor": "#222222", "labelPadding": 2, "grid": false, "offset": 2, "titlePadding": 6, "titleX": 126.5, "titleAlign": "center"}},
                "color": {"field": "contrib", "type": "nominal", "scale": {"domain": ["No reinfection", "Reinfection"], "range": ["#388ECC", "#F68B33"]}, "legend": null}
              }
            },
            {
              "width": 274,
              "height": 177,
              "view": {"stroke": null},
              "data": {"name": "load"},
              "transform": [{"filter": "datum.panel === 'E'"}],
              "mark": {"type": "bar"},
              "encoding": {
                "y": {"field": "antigen", "type": "nominal", "sort": null, "title": "E",
                  "scale": {"paddingInner": 0.2, "paddingOuter": 0.1},
                  "axis": {"ticks": false, "domain": false, "grid": false, "labelFontSize": 9.2, "labelColor": "#333333", "labelPadding": 2, "labelLimit": 220,
                    "titleAngle": 0, "titleX": -119, "titleY": 8, "titleAlign": "left", "titleBaseline": "middle", "titleFontWeight": "bold", "titleFontSize": 14}},
                "x": {"field": "value", "type": "quantitative", "title": "Absolute value of loading weights (PLSDA coefficients)",
                  "scale": {"domain": [0, 0.697], "nice": false, "zero": true},
                  "axis": {"values": [0, 0.1, 0.2, 0.3, 0.4, 0.5, 0.6], "format": ".1f", "domain": true, "domainColor": "#000000", "tickColor": "#000000", "tickSize": 4, "labelFontSize": 8, "labelColor": "#222222", "labelPadding": 2, "grid": false, "offset": 2, "titlePadding": 6, "titleX": 126.5, "titleAlign": "center"}},
                "color": {"field": "contrib", "type": "nominal", "scale": {"domain": ["No reinfection", "Reinfection"], "range": ["#388ECC", "#F68B33"]}, "legend": null}
              }
            }
          ]
        }
      ]
    }
  ]
}
